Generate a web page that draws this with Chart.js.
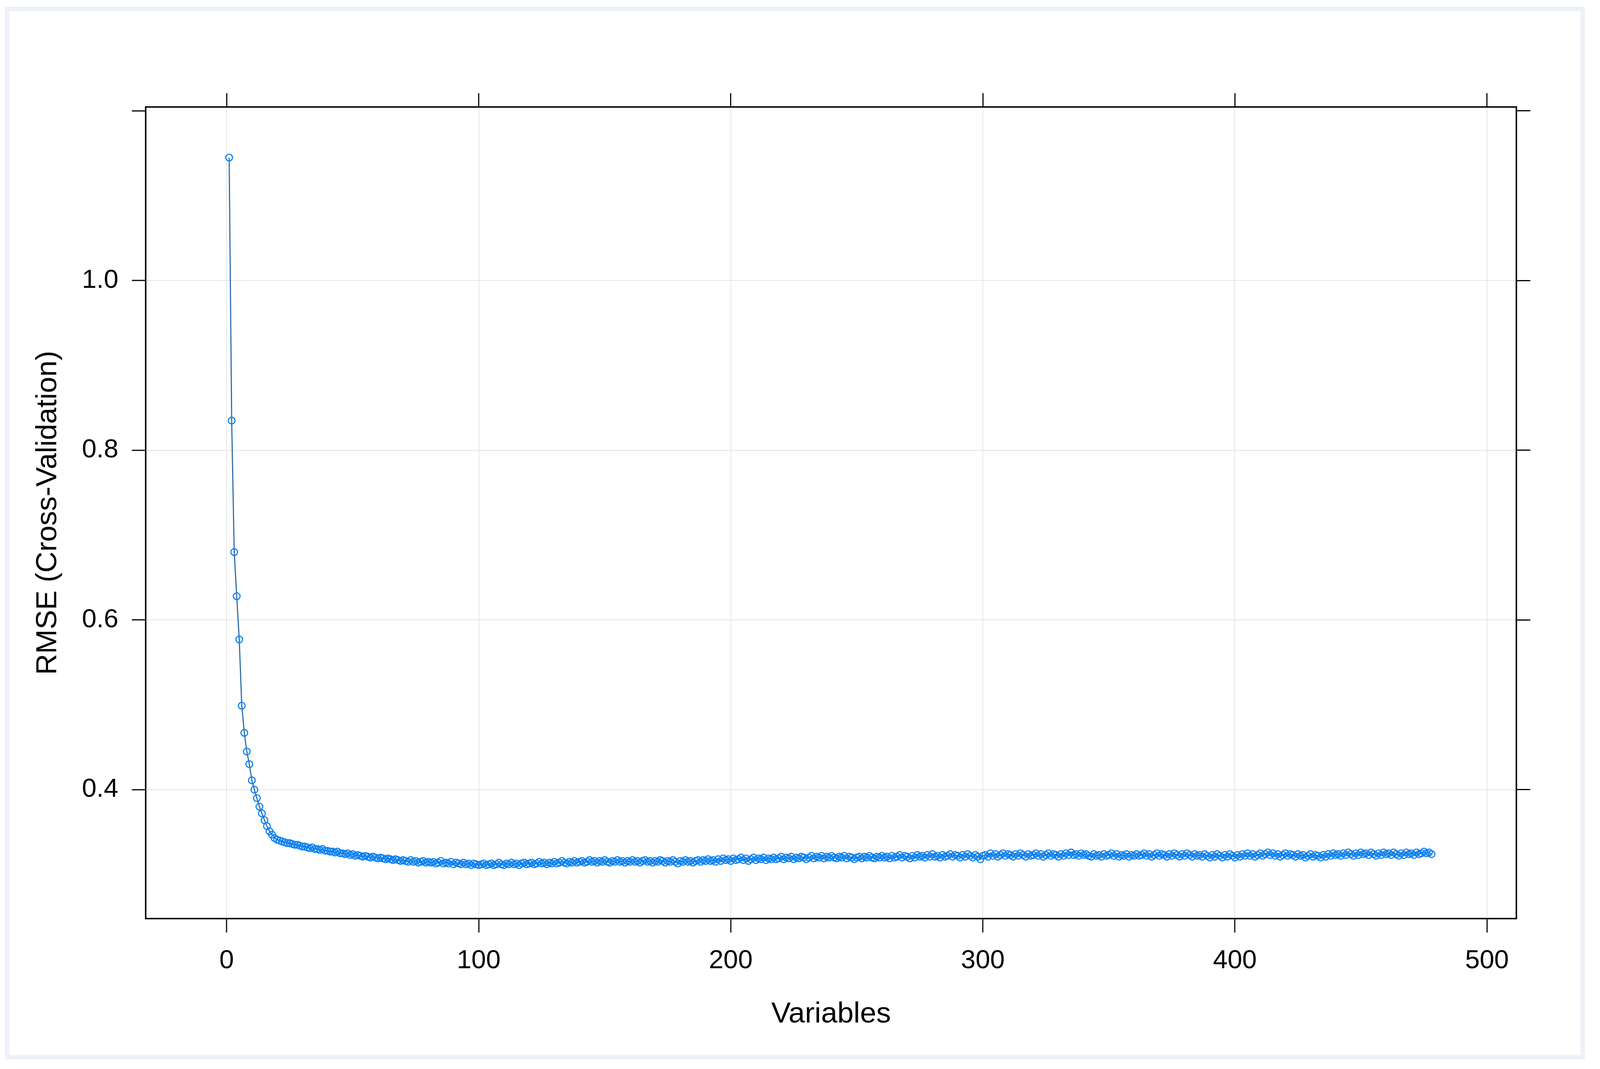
<!DOCTYPE html>
<html><head><meta charset="utf-8">
<script src="https://cdn.jsdelivr.net/npm/chart.js@4/dist/chart.umd.min.js"></script>
<style>html,body{margin:0;padding:0;background:#fff;overflow:hidden}canvas{display:block}</style>
</head><body>
<canvas id="c"></canvas>
<script>
const xTicks = [0, 100, 200, 300, 400, 500];
const yTicks = [0.4, 0.6, 0.8, 1.0, 1.2];
const yLabels = ['0.4', '0.6', '0.8', '1.0', ''];
const rmse = [
1.145,0.835,0.680,0.628,0.577,0.499,0.467,0.445,0.430,0.411,0.400,0.390,0.380,0.372,0.364,0.357,0.351,0.347,0.343,0.341,
0.340,0.339,0.338,0.337,0.337,0.336,0.335,0.335,0.334,0.333,0.333,0.332,0.331,0.332,0.330,0.330,0.329,0.330,0.328,0.328,
0.327,0.327,0.326,0.327,0.325,0.325,0.324,0.325,0.323,0.324,0.322,0.323,0.322,0.321,0.322,0.321,0.320,0.321,0.320,0.319,
0.320,0.319,0.318,0.319,0.318,0.317,0.318,0.317,0.316,0.317,0.316,0.315,0.317,0.315,0.316,0.314,0.315,0.316,0.314,0.315,
0.314,0.315,0.313,0.314,0.316,0.313,0.314,0.313,0.315,0.312,0.314,0.313,0.312,0.314,0.312,0.313,0.311,0.313,0.312,0.311,
0.312,0.313,0.311,0.312,0.313,0.311,0.312,0.314,0.312,0.311,0.313,0.312,0.314,0.312,0.313,0.311,0.313,0.314,0.312,0.313,
0.314,0.312,0.313,0.315,0.313,0.314,0.312,0.314,0.313,0.315,0.313,0.314,0.316,0.314,0.313,0.315,0.314,0.316,0.314,0.315,
0.316,0.314,0.315,0.317,0.315,0.316,0.314,0.316,0.315,0.317,0.315,0.314,0.316,0.315,0.317,0.315,0.316,0.314,0.316,0.315,
0.317,0.315,0.316,0.314,0.316,0.317,0.315,0.316,0.314,0.316,0.315,0.317,0.316,0.314,0.316,0.315,0.317,0.315,0.313,0.316,
0.315,0.317,0.315,0.316,0.314,0.316,0.317,0.315,0.317,0.316,0.318,0.316,0.317,0.315,0.318,0.316,0.319,0.317,0.318,0.316,
0.319,0.317,0.318,0.320,0.317,0.319,0.316,0.318,0.320,0.317,0.319,0.318,0.320,0.317,0.319,0.318,0.320,0.318,0.319,0.321,
0.318,0.320,0.319,0.321,0.318,0.320,0.319,0.321,0.320,0.318,0.320,0.322,0.319,0.321,0.320,0.322,0.319,0.321,0.320,0.322,
0.320,0.319,0.321,0.320,0.322,0.319,0.321,0.320,0.318,0.320,0.321,0.319,0.321,0.320,0.322,0.320,0.319,0.321,0.320,0.322,
0.320,0.321,0.319,0.322,0.320,0.321,0.323,0.320,0.322,0.321,0.319,0.322,0.320,0.323,0.321,0.322,0.320,0.323,0.321,0.324,
0.321,0.322,0.320,0.323,0.321,0.322,0.324,0.321,0.323,0.322,0.320,0.323,0.321,0.324,0.322,0.320,0.323,0.321,0.318,0.322,
0.323,0.321,0.325,0.322,0.324,0.321,0.323,0.325,0.322,0.324,0.323,0.321,0.324,0.322,0.325,0.323,0.321,0.324,0.322,0.323,
0.325,0.322,0.324,0.321,0.323,0.325,0.322,0.324,0.323,0.321,0.324,0.322,0.325,0.323,0.326,0.323,0.324,0.322,0.325,0.323,
0.324,0.322,0.321,0.324,0.322,0.323,0.321,0.324,0.322,0.323,0.325,0.322,0.324,0.321,0.323,0.322,0.324,0.321,0.323,0.322,
0.324,0.322,0.323,0.325,0.322,0.324,0.321,0.323,0.325,0.322,0.324,0.323,0.321,0.324,0.322,0.325,0.323,0.321,0.324,0.322,
0.325,0.323,0.321,0.324,0.322,0.323,0.321,0.324,0.322,0.320,0.323,0.321,0.324,0.322,0.320,0.323,0.321,0.324,0.322,0.320,
0.323,0.321,0.324,0.322,0.325,0.322,0.324,0.321,0.323,0.325,0.322,0.324,0.326,0.323,0.325,0.322,0.324,0.321,0.323,0.325,
0.322,0.324,0.323,0.321,0.324,0.322,0.323,0.320,0.322,0.324,0.321,0.323,0.322,0.320,0.323,0.321,0.324,0.322,0.325,0.323,
0.324,0.322,0.325,0.323,0.326,0.324,0.322,0.325,0.323,0.326,0.324,0.325,0.323,0.326,0.324,0.322,0.325,0.323,0.326,0.324,
0.325,0.323,0.326,0.324,0.322,0.325,0.323,0.326,0.324,0.325,0.323,0.326,0.324,0.325,0.327,0.325,0.326,0.324
];
const variables = rmse.map((_, i) => i + 1);

const W0 = 4271, H0 = 2737;
const W = Math.min(window.innerWidth || W0, W0) , H = Math.min(window.innerHeight || H0, H0);
const sx = W / W0, sy = H / H0, sf = Math.min(sx, sy);
const L = 389 * sx, R = 4048 * sx, T = 274 * sy, B = 2352 * sy;
const FONT = 'Liberation Sans, Arial, sans-serif';
const cv = document.getElementById('c');
cv.width = W; cv.height = H;

const bgPlugin = {
  id: 'bg',
  beforeDraw(c) {
    const ctx = c.ctx;
    ctx.save();
    ctx.fillStyle = '#ffffff';
    ctx.fillRect(0, 0, W, H);
    ctx.strokeStyle = '#edf1f8';
    ctx.lineWidth = 12 * sf;
    ctx.strokeRect(19 * sx, 23 * sy, 4206 * sx, 2684 * sy);
    ctx.restore();
  }
};

const tickSet = (arr) => function (s) { s.ticks = arr.map(v => ({ value: v })); };
const gridMain = {
  color: '#e4e4e4', lineWidth: 2 * sf, tickColor: '#000', tickWidth: 3 * sf, tickLength: 37 * sf, drawOnChartArea: true
};
const gridSec = { drawOnChartArea: false, tickColor: '#000', tickWidth: 3 * sf, tickLength: 37 * sf };
const border = { color: '#000', width: 4 * sf };

new Chart(cv, {
  type: 'line',
  data: {
    labels: variables,
    datasets: [{
      data: variables.map((x, i) => ({ x: x, y: rmse[i] })),
      borderColor: '#2a6aa8',
      borderWidth: 3 * sf,
      pointStyle: 'circle',
      pointRadius: 9 * sf,
      pointBorderWidth: 3 * sf,
      pointBorderColor: '#0a80f0',
      pointBackgroundColor: 'rgba(255,255,255,0)',
      tension: 0
    }]
  },
  options: {
    responsive: false,
    devicePixelRatio: 1,
    animation: false,
    events: [],
    layout: { padding: 0 },
    plugins: { legend: { display: false }, tooltip: { enabled: false } },
    scales: {
      x: {
        type: 'linear', position: 'bottom', min: -32.1, max: 511.7,
        afterBuildTicks: tickSet(xTicks),
        afterFit(s) { s.height = H - B; },
        grid: gridMain, border: border,
        ticks: { font: { family: FONT, size: 70 * sf }, color: '#000', padding: 34 * sf, maxRotation: 0 },
        title: { display: true, text: 'Variables', font: { family: FONT, size: 78 * sf }, color: '#000', padding: { top: 99 * sf, bottom: 99 * sf } }
      },
      x2: {
        type: 'linear', position: 'top', min: -32.1, max: 511.7,
        afterBuildTicks: tickSet(xTicks),
        afterFit(s) { s.height = T; },
        grid: gridSec, border: border,
        ticks: { callback: () => '' }
      },
      y: {
        type: 'linear', position: 'left', min: 0.248, max: 1.2046,
        afterBuildTicks: tickSet(yTicks),
        afterFit(s) { s.width = L; },
        grid: Object.assign({}, gridMain, { color: (ctx) => (ctx.tick && ctx.tick.value > 1.1) ? 'rgba(0,0,0,0)' : '#e4e4e4' }),
        border: border,
        ticks: { font: { family: FONT, size: 70 * sf }, color: '#000', padding: 36 * sf,
          callback: (v) => { const i = yTicks.findIndex(t => Math.abs(t - v) < 1e-9); return i >= 0 ? yLabels[i] : ''; } },
        title: { display: true, text: 'RMSE (Cross-Validation)', font: { family: FONT, size: 78 * sf }, color: '#000', padding: { top: 82 * sf, bottom: 82 * sf } }
      },
      y2: {
        type: 'linear', position: 'right', min: 0.248, max: 1.2046,
        afterBuildTicks: tickSet(yTicks),
        afterFit(s) { s.width = W - R; },
        grid: gridSec, border: border,
        ticks: { callback: () => '' }
      }
    }
  },
  plugins: [bgPlugin]
});
</script>
</body></html>
